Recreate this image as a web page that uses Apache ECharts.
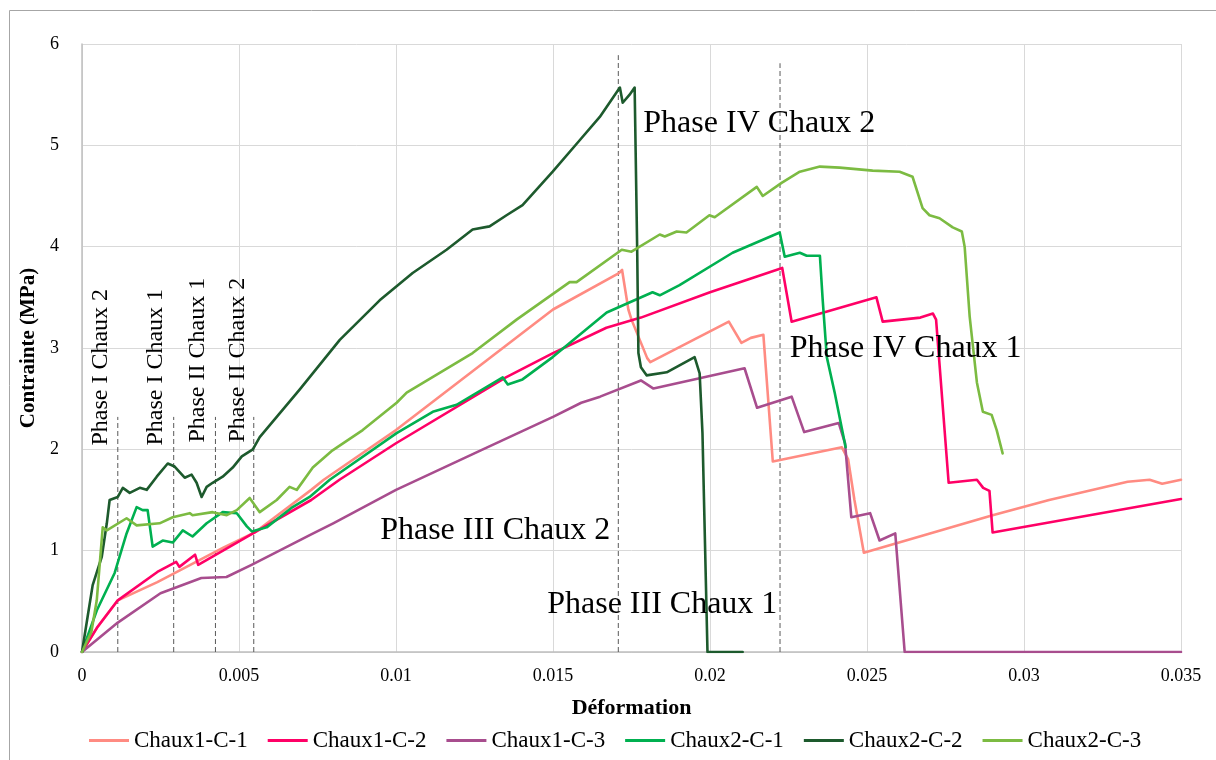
<!DOCTYPE html>
<html><head><meta charset="utf-8">
<script src="https://cdn.jsdelivr.net/npm/echarts@6/dist/echarts.min.js"></script>
<style>html,body{margin:0;padding:0;background:#fff}#c{width:1216px;height:760px}</style>
</head><body><div id="c"></div>
<script>
const seriesNames = ['Chaux1-C-1','Chaux1-C-2','Chaux1-C-3','Chaux2-C-1','Chaux2-C-2','Chaux2-C-3'];
const seriesColors = ['#ff8b82','#ff0066','#a84d8e','#00b050','#1d5a2d','#7cbb42'];

const chaux1C1 = [[0,0],[0.0005,0.25],[0.00114,0.51],[0.0024,0.69],[0.0045,1.03],[0.0055,1.18],[0.0073,1.60],[0.0077,1.70],[0.0100,2.19],[0.0150,3.38],[0.0171,3.74],[0.0172,3.77],[0.0174,3.38],[0.0175,3.28],[0.0180,2.90],[0.0181,2.86],[0.0206,3.26],[0.0210,3.05],[0.0213,3.10],[0.0217,3.13],[0.0220,1.88],[0.0242,2.02],[0.0244,1.90],[0.0246,1.50],[0.0249,0.98],[0.0290,1.35],[0.0308,1.50],[0.0333,1.68],[0.0340,1.70],[0.0344,1.66],[0.0350,1.70]];

const chaux1C2 = [[0,0],[0.0005,0.25],[0.00114,0.51],[0.0024,0.79],[0.0030,0.89],[0.0031,0.84],[0.0036,0.96],[0.0037,0.86],[0.0055,1.18],[0.0073,1.50],[0.0082,1.70],[0.0100,2.06],[0.0135,2.71],[0.0150,2.95],[0.0167,3.20],[0.0178,3.30],[0.0200,3.55],[0.0223,3.79],[0.0226,3.26],[0.0253,3.50],[0.0255,3.26],[0.0267,3.30],[0.0271,3.34],[0.0272,3.28],[0.0276,1.67],[0.0285,1.70],[0.0287,1.62],[0.0289,1.59],[0.0290,1.18],[0.0350,1.51]];

const chaux1C3 = [[0,0],[0.00114,0.29],[0.0025,0.58],[0.0038,0.73],[0.0046,0.74],[0.0054,0.86],[0.0073,1.16],[0.0080,1.27],[0.0100,1.60],[0.0127,1.99],[0.0150,2.32],[0.0159,2.46],[0.0165,2.52],[0.0178,2.68],[0.0182,2.60],[0.0211,2.80],[0.0215,2.41],[0.0226,2.52],[0.0230,2.17],[0.0241,2.26],[0.0243,2.06],[0.0245,1.33],[0.0251,1.37],[0.0254,1.10],[0.0259,1.17],[0.0262,0],[0.0350,0]];

const chaux2C1 = [[0,0],[0.00047,0.41],[0.00104,0.78],[0.00142,1.17],[0.00174,1.43],[0.00193,1.40],[0.00209,1.40],[0.00225,1.04],[0.00257,1.10],[0.00289,1.08],[0.00321,1.20],[0.00352,1.14],[0.00397,1.27],[0.00448,1.38],[0.00493,1.37],[0.00525,1.24],[0.00541,1.19],[0.00588,1.23],[0.00671,1.43],[0.00725,1.53],[0.00789,1.70],[0.01002,2.16],[0.01117,2.37],[0.01193,2.44],[0.01340,2.71],[0.01356,2.64],[0.01403,2.69],[0.01499,2.91],[0.01671,3.35],[0.01817,3.55],[0.01840,3.52],[0.01903,3.62],[0.02072,3.94],[0.02222,4.14],[0.02238,3.90],[0.02286,3.94],[0.02308,3.91],[0.02350,3.91],[0.02359,3.47],[0.02372,2.91],[0.02397,2.56],[0.02419,2.22],[0.02432,2.02]];

const chaux2C2 = [[0,0],[0.00018,0.35],[0.00034,0.66],[0.00063,0.94],[0.00079,1.27],[0.00088,1.50],[0.00114,1.53],[0.00130,1.62],[0.00152,1.57],[0.00184,1.62],[0.00206,1.60],[0.00238,1.73],[0.00273,1.86],[0.00295,1.83],[0.00327,1.72],[0.00349,1.75],[0.00365,1.67],[0.00381,1.53],[0.00397,1.63],[0.00416,1.67],[0.00448,1.73],[0.00480,1.82],[0.00509,1.93],[0.00544,2.00],[0.00566,2.12],[0.00693,2.59],[0.00821,3.08],[0.00948,3.47],[0.01053,3.74],[0.01161,3.97],[0.01244,4.17],[0.01298,4.20],[0.01352,4.31],[0.01403,4.41],[0.01499,4.74],[0.01585,5.05],[0.01649,5.28],[0.01713,5.57],[0.01722,5.42],[0.01744,5.50],[0.01760,5.57],[0.01768,4.00],[0.01772,2.95],[0.01780,2.81],[0.01798,2.73],[0.01862,2.76],[0.01951,2.91],[0.01967,2.75],[0.01976,2.16],[0.01992,0],[0.02104,0]];

const chaux2C3 = [[0,0],[0.00030,0.20],[0.00047,0.51],[0.00066,1.23],[0.00079,1.20],[0.00142,1.32],[0.00174,1.25],[0.00247,1.27],[0.00289,1.33],[0.00343,1.37],[0.00352,1.35],[0.00416,1.38],[0.00461,1.35],[0.00493,1.40],[0.00534,1.52],[0.00566,1.38],[0.00620,1.50],[0.00661,1.63],[0.00684,1.60],[0.00735,1.82],[0.00798,1.99],[0.00894,2.19],[0.01002,2.46],[0.01034,2.56],[0.01244,2.95],[0.01384,3.28],[0.01553,3.65],[0.01575,3.65],[0.01719,3.97],[0.01750,3.95],[0.01840,4.12],[0.01856,4.10],[0.01894,4.15],[0.01925,4.14],[0.01998,4.31],[0.02015,4.29],[0.02149,4.59],[0.02168,4.50],[0.02228,4.63],[0.02286,4.74],[0.02350,4.79],[0.02413,4.78],[0.02518,4.75],[0.02604,4.74],[0.02645,4.69],[0.02677,4.38],[0.02699,4.31],[0.02731,4.28],[0.02773,4.19],[0.02802,4.15],[0.02811,4.00],[0.02827,3.31],[0.02850,2.66],[0.02869,2.37],[0.02897,2.34],[0.02913,2.19],[0.02932,1.96]];

const seriesData = [chaux1C1, chaux1C2, chaux1C3, chaux2C1, chaux2C2, chaux2C3];

// dashed phase boundaries
const dashX = [0.00114, 0.00292, 0.00425, 0.00547, 0.01708, 0.02223];
const dashTop = [2.32, 2.32, 2.32, 2.32, 5.89, 5.81];

// annotations
const annotTexts = ['Phase I Chaux 2','Phase I Chaux 1','Phase II Chaux 1','Phase II Chaux 2','Phase III Chaux 2','Phase III Chaux 1','Phase IV Chaux 2','Phase IV Chaux 1'];
const annotX = [0.00060, 0.00235, 0.00368, 0.00496, 0.01316, 0.01848, 0.02157, 0.02623];
const annotY = [2.81, 2.81, 2.88, 2.88, 1.20, 0.47, 5.21, 2.99];
const annotRotate = [90, 90, 90, 90, 0, 0, 0, 0];

const xTicks = {min: 0, max: 0.035, interval: 0.005};
const yTicks = {min: 0, max: 6, interval: 1};

const FONT = "'Liberation Serif','Times New Roman',serif";

const chart = echarts.init(document.getElementById('c'), null, {renderer: 'canvas'});

const series = [];
seriesNames.forEach((n, i) => {
  series.push({
    name: n, type: 'line', data: seriesData[i], showSymbol: false, symbol: 'none',
    lineStyle: {color: seriesColors[i], width: 2.6, join: 'round', cap: 'round'},
    itemStyle: {color: seriesColors[i]}, z: 3, silent: true
  });
});
dashX.forEach((x, i) => {
  series.push({
    name: 'dash' + i, type: 'line', data: [[x, 0], [x, dashTop[i]]], showSymbol: false, symbol: 'none',
    lineStyle: {color: '#595959', width: 1, type: [5, 3]}, z: 2, silent: true
  });
});
series.push({
  name: 'annotations', type: 'scatter', symbolSize: 0, z: 5, silent: true,
  itemStyle: {color: '#000', opacity: 1},
  data: annotTexts.map((t, i) => ({
    value: [annotX[i], annotY[i]], name: t,
    label: {rotate: annotRotate[i], fontSize: annotRotate[i] ? 24 : 32}
  })),
  label: {show: true, position: 'inside', formatter: p => p.name, color: '#000', opacity: 1,
          textBorderWidth: 0, textShadowBlur: 0, fontFamily: FONT, align: 'center', verticalAlign: 'middle'}
});

chart.setOption({
  animation: false,
  backgroundColor: '#fff',
  grid: {left: 82, right: 35, top: 44, bottom: 108},
  graphic: [{type: 'rect', shape: {x: 9.5, y: 10.5, width: 1230, height: 780}, style: {fill: 'none', stroke: '#a6a6a6', lineWidth: 1}, silent: true}],
  legend: {
    data: seriesNames, left: 84, top: 724, itemWidth: 40, itemHeight: 3, itemGap: 20, icon: 'rect',
    textStyle: {fontFamily: FONT, fontSize: 23, color: '#000'}
  },
  xAxis: {
    type: 'value', min: xTicks.min, max: xTicks.max, interval: xTicks.interval,
    name: 'Déformation', nameLocation: 'middle', nameGap: 45,
    nameTextStyle: {fontFamily: FONT, fontWeight: 'bold', fontSize: 22, color: '#000'},
    axisLine: {show: true, lineStyle: {color: '#bfbfbf', width: 1.5}},
    axisTick: {show: false},
    axisLabel: {fontFamily: FONT, fontSize: 18, color: '#000', margin: 15, formatter: v => String(Number(v.toFixed(3)))},
    splitLine: {show: true, lineStyle: {color: '#d9d9d9', width: 1}}
  },
  yAxis: {
    type: 'value', min: yTicks.min, max: yTicks.max, interval: yTicks.interval,
    name: 'Contrainte (MPa)', nameLocation: 'middle', nameGap: 33,
    nameTextStyle: {fontFamily: FONT, fontWeight: 'bold', fontSize: 21, color: '#000'},
    axisLine: {show: true, lineStyle: {color: '#bfbfbf', width: 1.5}},
    axisTick: {show: false},
    axisLabel: {fontFamily: FONT, fontSize: 18, color: '#000', margin: 23},
    splitLine: {show: true, lineStyle: {color: '#d9d9d9', width: 1}}
  },
  series: series
});
</script>
</body></html>
